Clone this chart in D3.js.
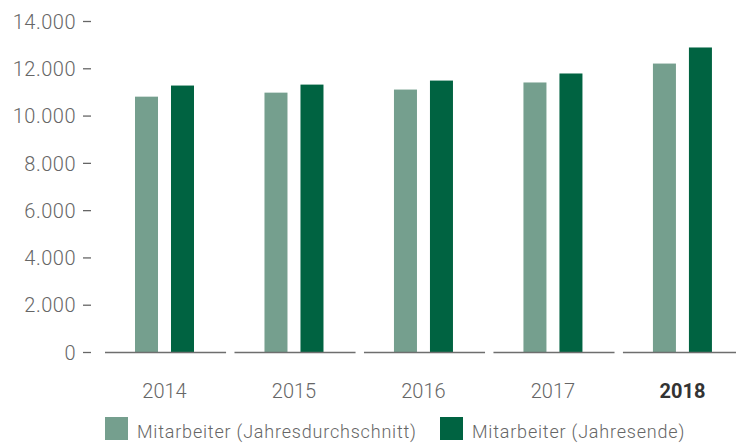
<!DOCTYPE html>
<html>
<head>
<meta charset="utf-8">
<script src="https://cdn.jsdelivr.net/npm/d3@7"></script>
<style>
  body { margin: 0; background: #fff; }
  svg text { font-family: Roboto, "DejaVu Sans", sans-serif; font-weight: 300; fill: #666; }
</style>
</head>
<body>
<svg id="chart" width="736" height="443"></svg>
<script>
const years = ["2014", "2015", "2016", "2017", "2018"];
const series = ["Mitarbeiter (Jahresdurchschnitt)", "Mitarbeiter (Jahresende)"];
const avgValues = [10800, 10970, 11100, 11400, 12200];
const endValues = [11270, 11310, 11480, 11780, 12880];
const yTicks = [0, 2000, 4000, 6000, 8000, 10000, 12000, 14000];
const colors = ["#759f8e", "#006341"];

const svg = d3.select("#chart");

const y = d3.scaleLinear().domain([0, 14000]).range([352, 21]);
const x0 = d3.scaleBand().domain(years).range([105, 744]).paddingInner(0.065).paddingOuter(0);
const x1 = d3.scaleBand().domain(series).range([30, 89]).paddingInner(0.361);

const fmt = d => d3.format(",")(d).replace(/,/g, ".");

// y axis with dashes
const yAxis = svg.append("g")
  .attr("transform", "translate(91,0)")
  .call(d3.axisLeft(y).tickValues(yTicks).tickSize(8).tickPadding(7).tickFormat(fmt));
yAxis.select(".domain").remove();
yAxis.selectAll(".tick line").attr("stroke", "#666").attr("stroke-width", 1.3);
yAxis.selectAll(".tick text")
  .attr("font-size", 20)
  .attr("font-family", "Roboto, sans-serif")
  .attr("font-weight", 300)
  .attr("fill", "#666")
  .attr("letter-spacing", 0.5)
  .attr("dy", "0.36em");

const groups = svg.selectAll("g.year")
  .data(years)
  .enter()
  .append("g")
  .attr("class", "year")
  .attr("transform", d => `translate(${x0(d)},0)`);

groups.selectAll("rect")
  .data((d, i) => [avgValues[i], endValues[i]].map((v, j) => ({ s: series[j], v: v, c: colors[j] })))
  .enter()
  .append("rect")
  .attr("x", d => x1(d.s))
  .attr("y", d => y(d.v))
  .attr("width", x1.bandwidth())
  .attr("height", d => y(0) - y(d.v))
  .attr("fill", d => d.c);

// baseline segments
groups.append("line")
  .attr("x1", 0)
  .attr("x2", x0.bandwidth())
  .attr("y1", y(0) + 0.5)
  .attr("y2", y(0) + 0.5)
  .attr("stroke", "#6e6e6e")
  .attr("stroke-width", 1.6);

groups.append("text")
  .attr("x", x1("Mitarbeiter (Jahresdurchschnitt)") + (x1.step() + x1.bandwidth()) / 2)
  .attr("y", 398)
  .attr("text-anchor", "middle")
  .attr("font-size", 20)
  .style("font-weight", d => d === "2018" ? 700 : 300)
  .style("fill", d => d === "2018" ? "#333" : "#666")
  .text(d => d);

// legend
const legendX = [105, 440];
const legend = svg.selectAll("g.legend")
  .data(series)
  .enter()
  .append("g")
  .attr("class", "legend")
  .attr("transform", (d, i) => `translate(${legendX[i]},417)`);

legend.append("rect")
  .attr("width", 23)
  .attr("height", 23)
  .attr("fill", (d, i) => colors[i]);

legend.append("text")
  .attr("x", 32)
  .attr("y", 21)
  .attr("font-size", 18)
  .attr("letter-spacing", 0.8)
  .text(d => d);
</script>
</body>
</html>
